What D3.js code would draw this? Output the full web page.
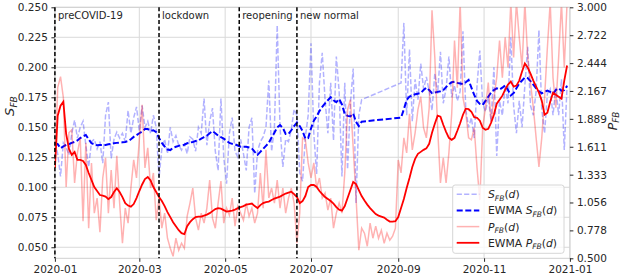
<!DOCTYPE html>
<html><head><meta charset="utf-8">
<script src="https://cdn.jsdelivr.net/npm/d3@7"></script>
<style>
body{margin:0;background:#fff;}
svg text{font-family:"DejaVu Sans",sans-serif;fill:#262626;}
</style></head><body>
<svg id="c" width="623" height="280"></svg>
<script>
// ---------- data (day offsets from 2020-01-01, sampled every 2 days) ----------
const sDays = [...d3.range(0, 219, 2), ...d3.range(246, 365, 2)];
const sRaw = [
0.137,0.128,0.109,0.137,0.133,0.127,0.145,0.156,0.141,0.150,
0.155,0.135,0.117,0.138,0.140,0.132,0.138,0.120,0.160,0.171,
0.124,0.140,0.146,0.141,0.145,0.138,0.164,0.145,0.158,0.167,
0.147,0.168,0.150,0.155,0.145,0.160,0.150,0.108,0.132,0.140,
0.128,0.150,0.138,0.143,0.135,0.131,0.136,0.128,0.142,0.140,
0.130,0.150,0.145,0.174,0.135,0.155,0.166,0.130,0.114,0.174,
0.125,0.103,0.145,0.158,0.130,0.125,0.140,0.128,0.114,0.150,
0.158,0.095,0.130,0.138,0.142,0.150,0.189,0.130,0.150,0.235,
0.150,0.117,0.140,0.138,0.148,0.165,0.160,0.112,0.105,0.142,
0.160,0.220,0.145,0.111,0.187,0.212,0.173,0.145,0.187,0.139,
0.209,0.180,0.109,0.187,0.115,0.170,0.199,0.087,0.160,0.173,
0.187,0.237,0.160,0.215,0.155,0.190,0.173,0.203,0.182,0.192,
0.180,0.164,0.195,0.178,0.213,0.170,0.182,0.209,0.175,0.185,
0.172,0.180,0.230,0.165,0.150,0.158,0.141,0.185,0.214,0.170,
0.163,0.175,0.155,0.200,0.126,0.172,0.160,0.185,0.170,0.225,
0.168,0.145,0.172,0.150,0.185,0.217,0.168,0.160,0.180,0.231,
0.165,0.145,0.178,0.182,0.160,0.183,0.160,0.190,0.131,0.185];
const sEwma = [
0.1367,0.136,0.1325,0.134,0.1353,0.136,0.137,0.1378,0.139,0.141,
0.1425,0.1436,0.140,0.1367,0.1358,0.135,0.1352,0.1353,0.1353,0.1358,
0.1362,0.1367,0.137,0.1372,0.1375,0.1378,0.1385,0.140,0.142,0.1435,
0.145,0.1465,0.1485,0.1485,0.147,0.1475,0.146,0.141,0.137,0.134,
0.1315,0.131,0.133,0.1338,0.1345,0.135,0.1355,0.1367,0.1372,0.1378,
0.1385,0.139,0.1405,0.1418,0.143,0.145,0.1468,0.145,0.143,0.1418,
0.1405,0.1388,0.137,0.1362,0.1358,0.1348,0.1338,0.1338,0.1338,0.1332,
0.1325,0.1295,0.127,0.1295,0.132,0.1345,0.137,0.1415,0.1455,0.150,
0.1518,0.1495,0.1445,0.1445,0.1475,0.151,0.1539,0.151,0.147,0.1405,
0.141,0.149,0.1555,0.159,0.1635,0.167,0.170,0.1725,0.175,0.1725,
0.171,0.1735,0.169,0.1612,0.1595,0.159,0.1615,0.1545,0.151,0.1547,
0.158,0.165,0.1728,0.1755,0.1765,0.1775,0.178,0.1785,0.181,0.183,
0.181,0.1785,0.179,0.1795,0.180,0.181,0.1835,0.186,0.1875,0.188,
0.187,0.1865,0.186,0.1875,0.1894,0.183,0.177,0.172,0.1695,0.1686,
0.172,0.1755,0.179,0.181,0.1825,0.1815,0.183,0.185,0.181,0.1765,
0.1785,0.1825,0.1865,0.189,0.1915,0.191,0.1885,0.1855,0.1825,0.180,
0.1783,0.1795,0.1805,0.1795,0.178,0.181,0.1825,0.1805,0.181,0.1845];

const pDays = d3.range(0, 365, 2);
const pRaw = [
1.40,2.20,2.31,2.10,1.21,1.75,1.78,1.25,1.55,1.70,
0.87,1.65,0.80,1.45,0.95,1.10,0.76,1.30,1.50,0.95,
1.38,1.00,1.52,1.05,0.65,1.00,0.85,1.20,1.48,1.30,
1.68,2.03,1.40,1.60,1.20,1.35,0.88,1.10,0.80,0.95,
0.70,0.60,0.52,0.70,0.58,0.65,0.60,0.92,1.05,1.20,
0.90,0.78,0.95,0.85,1.00,1.28,0.90,0.80,1.05,1.27,
0.85,1.00,0.93,1.10,0.82,1.02,0.95,0.88,1.05,0.92,
1.00,0.85,0.95,1.35,1.00,1.58,1.10,1.20,1.05,1.28,
1.00,1.20,0.95,1.10,1.20,1.05,0.65,0.95,1.70,1.68,
1.45,1.30,1.45,1.20,1.30,1.10,1.15,0.98,1.10,0.80,
0.95,1.05,0.95,1.35,1.98,2.08,1.60,1.11,0.58,0.80,
0.75,0.62,0.85,0.70,0.82,0.70,0.78,0.65,0.75,0.68,
0.72,0.80,1.48,1.35,1.70,1.55,1.94,1.58,1.75,1.98,
2.11,1.80,1.70,2.00,2.97,2.50,1.80,1.25,1.50,1.25,
1.55,1.94,2.67,2.20,3.05,2.10,1.95,1.70,1.68,1.80,
1.40,1.08,1.80,2.00,2.25,1.85,2.10,2.30,2.67,2.30,
2.70,2.40,3.05,2.50,3.05,2.70,2.40,3.05,2.50,2.25,
2.00,1.70,1.41,1.70,2.10,2.60,3.05,2.30,2.00,2.50,
3.05,2.40,3.05];
const pEwma = [
1.40,1.92,2.02,2.06,1.74,1.59,1.53,1.56,1.48,1.48,
1.47,1.43,1.35,1.28,1.21,1.17,1.13,1.125,1.115,1.09,
1.11,1.16,1.197,1.16,1.11,1.05,1.025,1.014,1.04,1.10,
1.17,1.235,1.29,1.31,1.275,1.21,1.16,1.11,1.07,1.02,
0.96,0.91,0.86,0.82,0.78,0.75,0.74,0.82,0.86,0.89,
0.91,0.915,0.915,0.925,0.935,0.95,0.97,0.99,1.0,0.995,
0.98,0.965,0.97,0.975,0.985,1.0,1.01,1.02,1.035,1.04,
1.045,1.02,1.0,1.03,1.05,1.06,1.065,1.08,1.095,1.105,
1.114,1.13,1.145,1.155,1.163,1.14,1.11,1.05,1.07,1.12,
1.21,1.23,1.23,1.21,1.17,1.14,1.11,1.09,1.07,1.045,
1.01,0.985,0.975,1.02,1.10,1.18,1.26,1.24,1.18,1.12,
1.075,1.035,1.0,0.97,0.94,0.925,0.915,0.905,0.885,0.866,
0.865,0.87,0.91,1.0,1.09,1.2,1.3,1.41,1.49,1.54,
1.56,1.58,1.595,1.64,1.75,1.84,1.92,1.91,1.83,1.76,
1.70,1.68,1.70,1.77,1.845,1.93,1.99,1.985,1.96,1.905,
1.90,1.87,1.80,1.78,1.79,1.85,1.93,2.04,2.08,2.12,
2.18,2.23,2.26,2.21,2.22,2.27,2.36,2.44,2.40,2.34,
2.27,2.21,2.15,2.07,1.93,1.95,2.06,2.15,2.13,2.11,
2.09,2.27,2.42];

const xTickLabels = ["2020-01","2020-03","2020-05","2020-07","2020-09","2020-11","2021-01"];
const leftTicks = [0.05,0.075,0.1,0.125,0.15,0.175,0.2,0.225,0.25];
const rightTickLabels = ["0.500","0.778","1.056","1.333","1.611","1.889","2.167","2.444","2.722","3.000"];
const eventLabels = ["preCOVID-19","lockdown","reopening","new normal"];
const eventDates = ["2020-01-01","2020-03-15","2020-05-11","2020-06-21"];

// ---------- layout ----------
const L = 54.9, R = 569.9, T = 7.3, B = 258.3;
const svg = d3.select("#c");
const parseDay = s => new Date(s + "T00:00:00Z");
const dayDate = d => new Date(Date.UTC(2020, 0, 1 + d));

const x = d3.scaleUtc().domain([parseDay("2020-01-01"), parseDay("2021-01-01")]).range([L, R]);
const yL = d3.scaleLinear().domain([0.0408, 0.25]).range([B, T]);
const yR = d3.scaleLinear().domain([0.5, 3.0]).range([B, T]);

svg.append("defs").append("clipPath").attr("id","clip")
  .append("rect").attr("x",L).attr("y",T).attr("width",R-L).attr("height",B-T);

// grid
const xTickDates = xTickLabels.map(s => parseDay(s + "-01"));
const grid = svg.append("g").attr("stroke","#d9d9d9").attr("stroke-width",1);
grid.selectAll(".gx").data(xTickDates).join("line")
  .attr("x1",d=>x(d)).attr("x2",d=>x(d)).attr("y1",T).attr("y2",B);
grid.selectAll(".gy").data(leftTicks).join("line")
  .attr("x1",L).attr("x2",R).attr("y1",d=>yL(d)).attr("y2",d=>yL(d));

// frame
svg.append("rect").attr("x",L).attr("y",T).attr("width",R-L).attr("height",B-T)
  .attr("fill","none").attr("stroke","#d0d0d0").attr("stroke-width",1);

const plot = svg.append("g").attr("clip-path","url(#clip)");

const sRawPts = sDays.map((d,i)=>[dayDate(d), sRaw[i]]);
const sEwPts = sDays.map((d,i)=>[dayDate(d), sEwma[i]]);
const pRawPts = pDays.map((d,i)=>[dayDate(d), pRaw[i]]);
const pEwPts = pDays.map((d,i)=>[dayDate(d), pEwma[i]]);

const lineL = d3.line().x(d=>x(d[0])).y(d=>yL(d[1]));
const lineR = d3.line().x(d=>x(d[0])).y(d=>yR(d[1]));

plot.append("path").attr("d", lineL(sRawPts)).attr("fill","none")
  .attr("stroke","#0000ff").attr("stroke-opacity",0.3).attr("stroke-width",1.5)
  .attr("stroke-dasharray","5.2,2.2");
plot.append("path").attr("d", lineL(sEwPts)).attr("fill","none")
  .attr("stroke","#0000ff").attr("stroke-width",2).attr("stroke-dasharray","6,2.6");

// event lines
const ev = svg.append("g");
eventDates.forEach((s,i)=>{
  const xx = x(parseDay(s));
  ev.append("line").attr("x1",xx).attr("x2",xx).attr("y1",T).attr("y2",B)
    .attr("stroke","#000").attr("stroke-width",1.5).attr("stroke-dasharray","4,2.4");
  ev.append("text").attr("x",xx+3).attr("y",19).attr("font-size","10px").text(eventLabels[i]);
});

plot.append("path").attr("d", lineR(pRawPts)).attr("fill","none")
  .attr("stroke","#ff0000").attr("stroke-opacity",0.3).attr("stroke-width",1.5);
plot.append("path").attr("d", lineR(pEwPts)).attr("fill","none")
  .attr("stroke","#ff0000").attr("stroke-width",1.8);

// axes
function styleAxis(g){
  g.select(".domain").remove();
  g.selectAll(".tick line").attr("stroke","#262626").attr("stroke-width",1);
  g.selectAll(".tick text").attr("font-size","10.5px").attr("fill","#262626")
    .attr("font-family","DejaVu Sans");
}
svg.append("g").attr("transform",`translate(0,${B})`)
  .call(d3.axisBottom(x).tickValues(xTickDates).tickFormat((d,i)=>xTickLabels[i]).tickSize(3.5).tickPadding(3.5))
  .call(styleAxis);
svg.append("g").attr("transform",`translate(${L},0)`)
  .call(d3.axisLeft(yL).tickValues(leftTicks).tickFormat(d3.format(".3f")).tickSize(3.5).tickPadding(3.5))
  .call(styleAxis);
const rightVals = rightTickLabels.map(Number);
svg.append("g").attr("transform",`translate(${R},0)`)
  .call(d3.axisRight(yR).tickValues(rightVals).tickFormat((d,i)=>rightTickLabels[i]).tickSize(3.5).tickPadding(3.5))
  .call(styleAxis);

// axis labels (math style)
function mathLabel(sel, main, sub, size){
  sel.append("tspan").attr("font-style","italic").text(main);
  sel.append("tspan").attr("font-style","italic").attr("font-size",(size*0.7)+"px").attr("dy",size*0.2).text(sub);
}
const yl = svg.append("text").attr("transform","translate(14,106) rotate(-90)")
  .attr("text-anchor","middle").attr("font-size","13px");
mathLabel(yl,"S","FB",13);
const yr = svg.append("text").attr("transform","translate(616.5,121) rotate(-90)")
  .attr("text-anchor","middle").attr("font-size","12.5px");
mathLabel(yr,"P","FB",12.5);

// legend
const lg = svg.append("g");
lg.append("rect").attr("x",452.7).attr("y",185).attr("width",111.3).attr("height",68.3).attr("rx",2.5)
  .attr("fill","#fff").attr("fill-opacity",0.8).attr("stroke","#d6d6d6").attr("stroke-width",1);
const legendItems = [
  {pre:"", main:"S", color:"#0000ff", op:0.3, w:1.5, dash:"5.2,2.2"},
  {pre:"EWMA ", main:"S", color:"#0000ff", op:1, w:2, dash:"6,2.6"},
  {pre:"", main:"P", color:"#ff0000", op:0.3, w:1.5, dash:null},
  {pre:"EWMA ", main:"P", color:"#ff0000", op:1, w:1.8, dash:null}
];
const fs = 10.8;
legendItems.forEach((it,i)=>{
  const yy = 194.2 + i*16.2;
  const ln = lg.append("line").attr("x1",456.7).attr("x2",479.3).attr("y1",yy).attr("y2",yy)
    .attr("stroke",it.color).attr("stroke-opacity",it.op).attr("stroke-width",it.w);
  if(it.dash) ln.attr("stroke-dasharray",it.dash);
  const t = lg.append("text").attr("x",488).attr("y",yy+3.9).attr("font-size",fs+"px");
  if(it.pre) t.append("tspan").text(it.pre);
  t.append("tspan").attr("font-style","italic").text(it.main);
  t.append("tspan").attr("font-style","italic").attr("font-size",(fs*0.7)+"px").attr("dy",2.4).text("FB");
  t.append("tspan").attr("dy",-2.4).text("(");
  t.append("tspan").attr("font-style","italic").text("d");
  t.append("tspan").text(")");
});
</script>
</body></html>
